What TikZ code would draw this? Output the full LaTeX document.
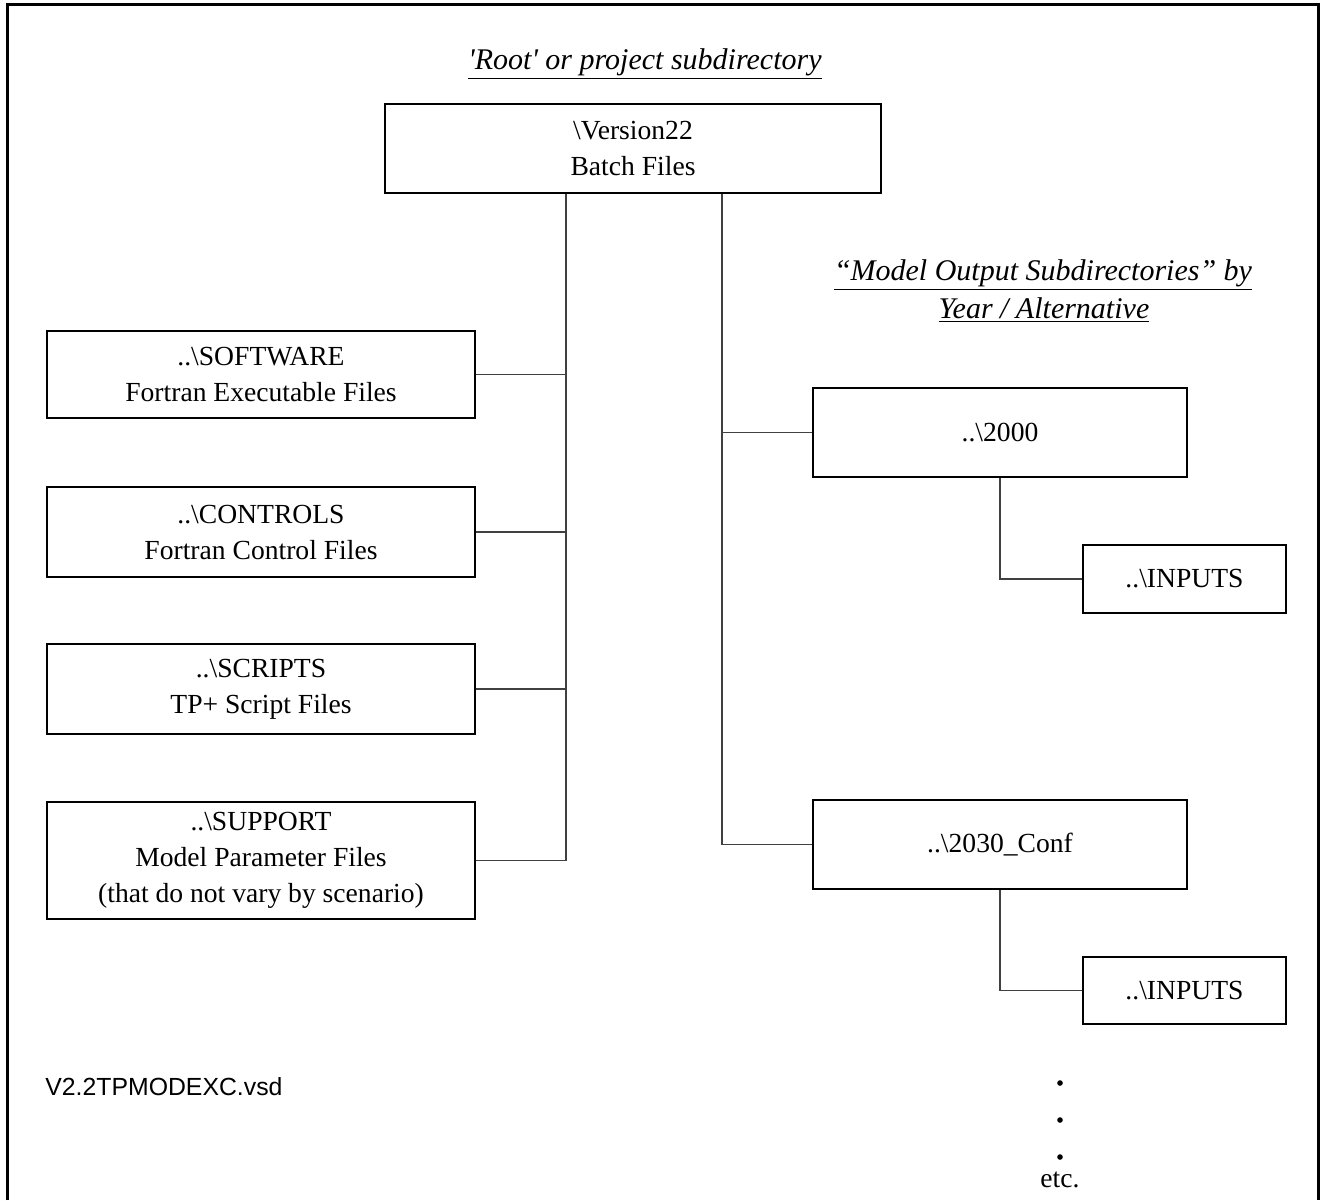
\documentclass[tikz,border=0pt]{standalone}
\usepackage{fontspec}
\setmainfont{Liberation Serif}
\newfontfamily\labelsans{Liberation Sans}
\begin{document}
\begin{tikzpicture}[x=0.5pt,y=-0.5pt,
  dirbox/.style={draw=black, line width=0.75pt, align=center, inner sep=0pt,
    font=\fontsize{13.8}{18}\selectfont},
  link/.style={draw=black!75, line width=0.6pt},
  heading/.style={align=center, inner sep=0pt, font=\fontsize{15}{18}\selectfont\itshape},
  dotmark/.style={circle, fill=black, inner sep=0pt, minimum size=2.8pt}]
\useasboundingbox (0,0) rectangle (1325,1200);
% page frame (open at the lower edge)
\draw[line width=1.5pt] (7,1200) -- (7,4) -- (1318,4) -- (1318,1200);

% headings
\node[heading] (roottitle) at (645,64) {\underline{\textquotesingle Root\textquotesingle{} or project subdirectory}};
\node[heading] (outtitle1) at (1043,275) {\underline{“Model Output Subdirectories” by}};
\node[heading] (outtitle2) at (1044,310) {\underline{Year / Alternative}};

% root directory
\node[dirbox, minimum width=248pt, minimum height=44.5pt] (ver) at (633,148.5)
  {\textbackslash Version22\\Batch Files};

% shared subdirectories
\node[dirbox, minimum width=214pt, minimum height=43.5pt] (sw) at (261,374.5)
  {..\textbackslash SOFTWARE\\Fortran Executable Files};
\node[dirbox, minimum width=214pt, minimum height=45pt] (ctl) at (261,532)
  {..\textbackslash CONTROLS\\Fortran Control Files};
\node[dirbox, minimum width=214pt, minimum height=45pt] (scr) at (261,689)
  {..\textbackslash SCRIPTS\\TP+ Script Files};
\node[dirbox, minimum width=214pt, minimum height=58.5pt] (sup) at (261,860.5)
  {..\textbackslash SUPPORT\\Model Parameter Files\\(that do not vary by scenario)};

% model output subdirectories
\node[dirbox, minimum width=187pt, minimum height=44.5pt] (y2000) at (1000,432.5)
  {..\textbackslash 2000};
\node[dirbox, minimum width=101.5pt, minimum height=34pt] (in1) at (1184.5,579)
  {..\textbackslash INPUTS};
\node[dirbox, minimum width=187pt, minimum height=44.5pt] (y2030) at (1000,844.5)
  {..\textbackslash 2030\_Conf};
\node[dirbox, minimum width=101.5pt, minimum height=33.5pt] (in2) at (1184.5,990.5)
  {..\textbackslash INPUTS};

% continuation marks
\node[dotmark] (d1) at (1060,1083) {};
\node[dotmark] (d2) at (1060,1120) {};
\node[dotmark] (d3) at (1060,1157) {};
\node[font=\fontsize{13.8}{18}\selectfont, inner sep=0pt] (etc) at (1060,1180) {etc.};

% file name
\node[anchor=west, inner sep=0pt, font=\labelsans\fontsize{12.4}{15}\selectfont] (fname) at (45,1087)
  {V2.2TPMODEXC.vsd};

% bus lines
\coordinate (busL) at (566,0);
\coordinate (busR) at (722,0);
\draw[link] (ver.south -| busL) -- (sup.east -| busL) -- (sup.east);
\draw[link] (sw.east) -- (sw.east -| busL);
\draw[link] (ctl.east) -- (ctl.east -| busL);
\draw[link] (scr.east) -- (scr.east -| busL);
\draw[link] (ver.south -| busR) -- (y2030.west -| busR) -- (y2030.west);
\draw[link] (y2000.west) -- (y2000.west -| busR);
\draw[link] (y2000.south) |- (in1.west);
\draw[link] (y2030.south) |- (in2.west);
\end{tikzpicture}
\end{document}
